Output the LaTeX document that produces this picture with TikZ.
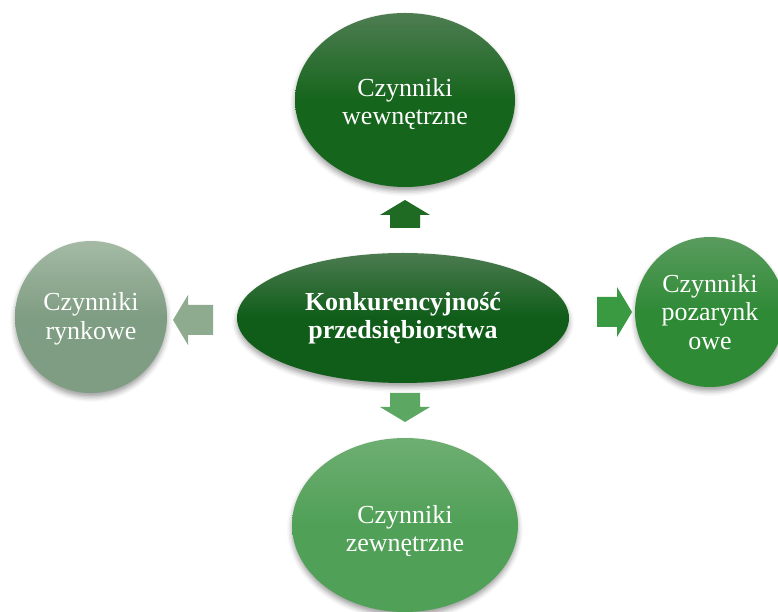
\documentclass[tikz,border=0pt]{standalone}
\usepackage{fontspec}
\setmainfont{Liberation Serif}
\usetikzlibrary{shapes.geometric,shadows.blur}

\definecolor{inTop}{HTML}{4E7D52}
\definecolor{inBot}{HTML}{16651C}
\definecolor{coTop}{HTML}{4C7B50}
\definecolor{coBot}{HTML}{0F5D19}
\definecolor{poTop}{HTML}{5A9C5F}
\definecolor{poBot}{HTML}{2E8A35}
\definecolor{zeTop}{HTML}{6EAE72}
\definecolor{zeBot}{HTML}{50A057}
\definecolor{ryTop}{HTML}{A4BAA5}
\definecolor{ryBot}{HTML}{7F9D82}
\definecolor{arUp}{HTML}{1F6B24}
\definecolor{arDown}{HTML}{5CA862}
\definecolor{arLeft}{HTML}{8EAB90}
\definecolor{arRight}{HTML}{3A9A41}

\tikzset{
  x=1pt, y=1pt,
  blob/.style={ellipse, inner sep=0pt, text=white, align=center,
    font=\fontsize{26}{28.5}\selectfont,
    blur shadow={shadow xshift=0pt, shadow yshift=-4pt,
      shadow blur radius=5pt, shadow opacity=38}},
  % block arrow pointing along +x, total length #1
  blockarr/.pic={
    \fill[pic actions] (-#1/2,-15) -- (#1/2-15,-15) -- (#1/2-15,-25)
      -- (#1/2,0) -- (#1/2-15,25) -- (#1/2-15,15) -- (-#1/2,15) -- cycle;
  }
}
% taller first line pushes a label slightly downwards
\newcommand{\lowerby}[1]{\rule{0pt}{#1}}

\begin{document}
\begin{tikzpicture}
\useasboundingbox (0,0) rectangle (778,612);

\node[blob, minimum width=332, minimum height=130,
      top color=coTop, bottom color=coBot, middle color=coBot,
      font=\fontsize{26}{28}\selectfont\bfseries]
  (core) at (403,294) {Konkurencyjność\\przedsiębiorstwa};

\node[blob, minimum width=220, minimum height=174,
      top color=inTop, bottom color=inBot, middle color=inBot]
  (inner) at (405,512) {\lowerby{26pt}Czynniki\\wewnętrzne};

\node[blob, minimum width=150, minimum height=150,
      top color=poTop, bottom color=poBot, middle color=poBot]
  (nonmarket) at (710,300) {Czynniki\\pozarynk\\owe};

\node[blob, minimum width=226, minimum height=174,
      top color=zeTop, bottom color=zeBot, middle color=zeBot]
  (outer) at (405,87) {\lowerby{30pt}Czynniki\\zewnętrzne};

\node[blob, minimum width=152, minimum height=152,
      top color=ryTop, bottom color=ryBot, middle color=ryBot]
  (market) at (91,295) {\lowerby{22pt}Czynniki\\rynkowe};

% block arrows from the core towards each group of factors
\coordinate (aUp) at (405,398);
\coordinate (aDown) at (405,204.5);
\coordinate (aLeft) at (193,292);
\coordinate (aRight) at (614.5,300);

\pic[fill=arUp, rotate=90] at (aUp) {blockarr=28};
\pic[fill=arDown, rotate=-90] at (aDown) {blockarr=29};
\pic[fill=arLeft, rotate=180] at (aLeft) {blockarr=40};
\pic[fill=arRight] at (aRight) {blockarr=35};
\end{tikzpicture}
\end{document}
